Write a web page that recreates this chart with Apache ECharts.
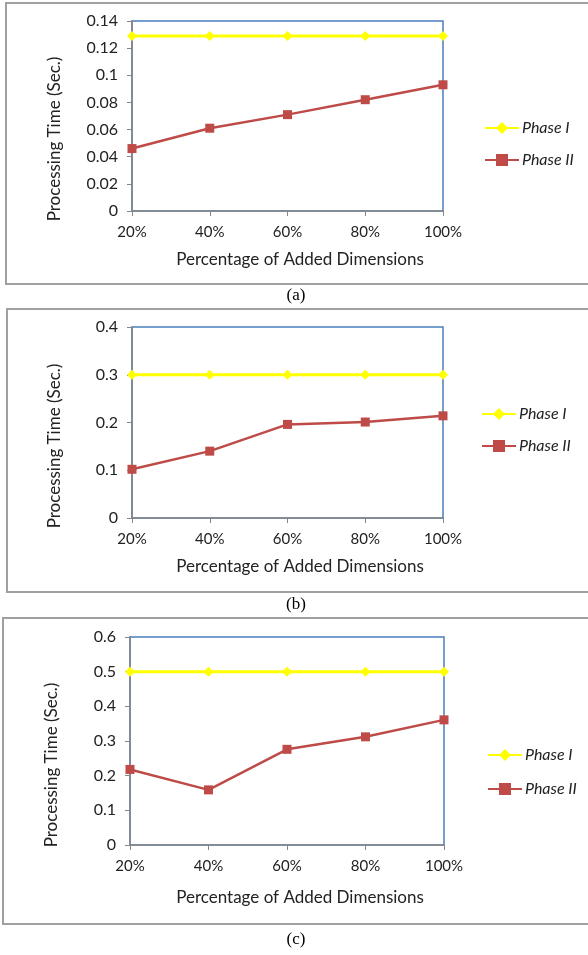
<!DOCTYPE html>
<html>
<head>
<meta charset="utf-8">
<script src="https://cdn.jsdelivr.net/npm/echarts@6/dist/echarts.min.js"></script>
<style>
html, body { margin: 0; padding: 0; background: #fff; }
#main { width: 588px; height: 955px; }
</style>
</head>
<body>
<div id="main"></div>
<script>
var categories = ['20%', '40%', '60%', '80%', '100%'];

var phase1A = [0.129, 0.129, 0.129, 0.129, 0.129];
var phase2A = [0.046, 0.061, 0.071, 0.082, 0.093];

var phase1B = [0.3, 0.3, 0.3, 0.3, 0.3];
var phase2B = [0.102, 0.140, 0.196, 0.201, 0.214];

var phase1C = [0.5, 0.5, 0.5, 0.5, 0.5];
var phase2C = [0.218, 0.159, 0.276, 0.312, 0.361];

var yMax = [0.14, 0.4, 0.6];
var yStep = [0.02, 0.1, 0.1];

var FONT = 'Lato';
var grids = [
    {left: 132, top: 21, width: 311, height: 190},
    {left: 132, top: 327, width: 311, height: 191},
    {left: 130, top: 637, width: 314, height: 208}
];

var xAxes = [], yAxes = [], series = [], legends = [];
grids.forEach(function (g, i) {
    g.show = true;
    g.borderColor = '#4a7ebb';
    g.borderWidth = 1.5;
    g.backgroundColor = 'transparent';
    xAxes.push({
        type: 'category', gridIndex: i, data: categories, boundaryGap: false,
        axisLine: {lineStyle: {color: '#868686', width: 1.5}},
        axisTick: {show: true, length: 5, lineStyle: {color: '#868686'}},
        axisLabel: {color: '#222', fontFamily: FONT, fontSize: 15, margin: 14},
        splitLine: {show: false}
    });
    yAxes.push({
        type: 'value', gridIndex: i, min: 0, max: yMax[i], interval: yStep[i],
        axisLine: {show: true, lineStyle: {color: '#868686', width: 1.5}},
        axisTick: {show: true, length: 5, lineStyle: {color: '#868686'}},
        axisLabel: {color: '#222', fontFamily: FONT, fontSize: 16, margin: 14},
        splitLine: {show: false}
    });
});

var p1 = [phase1A, phase1B, phase1C];
var p2 = [phase2A, phase2B, phase2C];
for (var i = 0; i < 3; i++) {
    series.push({
        name: 'Phase I', type: 'line', xAxisIndex: i, yAxisIndex: i, data: p1[i],
        symbol: 'diamond', symbolSize: 10,
        lineStyle: {color: '#ffff00', width: 3},
        itemStyle: {color: '#ffff00'}
    });
    series.push({
        name: 'Phase II', type: 'line', xAxisIndex: i, yAxisIndex: i, data: p2[i],
        symbol: 'rect', symbolSize: 9,
        lineStyle: {color: '#be4b48', width: 2.5},
        itemStyle: {color: '#be4b48'}
    });
}

var legendPos = [
    {left: 484, top: 120, itemGap: 16},
    {left: 481, top: 406, itemGap: 16},
    {left: 487, top: 747, itemGap: 18}
];
legendPos.forEach(function (lp) {
    legends.push({
        data: ['Phase I', 'Phase II'], orient: 'vertical',
        left: lp.left, top: lp.top, itemGap: lp.itemGap,
        itemWidth: 34, itemHeight: 15, padding: 0,
        textStyle: {fontFamily: FONT, fontSize: 16, fontStyle: 'italic', color: '#222', padding: [0, 0, 0, -2]}
    });
});

var graphics = [];
// outer frames
[[6, 3, 281], [7, 309, 283], [3, 618, 306]].forEach(function (f) {
    graphics.push({type: 'rect', shape: {x: f[0], y: f[1], width: 600, height: f[2]},
        style: {fill: 'none', stroke: '#a0a0a0', lineWidth: 2}, z: 0});
});
// axis titles
var yTitleCenters = [[55, 139], [55, 446], [52, 765]];
var xTitleY = [260, 567, 898];
yTitleCenters.forEach(function (c, i) {
    graphics.push({type: 'text', x: c[0], y: c[1], rotation: Math.PI / 2,
        style: {text: 'Processing Time (Sec.)', font: '17px ' + FONT, fill: '#222',
            textAlign: 'center', textVerticalAlign: 'middle'}});
    graphics.push({type: 'text', x: 300, y: xTitleY[i],
        style: {text: 'Percentage of Added Dimensions', font: '17px ' + FONT, fill: '#222',
            textAlign: 'center', textVerticalAlign: 'middle'}});
});
// captions
[['(a)', 296], ['(b)', 605], ['(c)', 940]].forEach(function (c) {
    graphics.push({type: 'text', x: 296, y: c[1],
        style: {text: c[0], font: '17px "Liberation Serif"', fill: '#000',
            textAlign: 'center', textVerticalAlign: 'middle'}});
});

var chart = echarts.init(document.getElementById('main'));
chart.setOption({
    animation: false,
    backgroundColor: '#fff',
    grid: grids,
    xAxis: xAxes,
    yAxis: yAxes,
    legend: legends,
    series: series,
    graphic: graphics
});
</script>
</body>
</html>
